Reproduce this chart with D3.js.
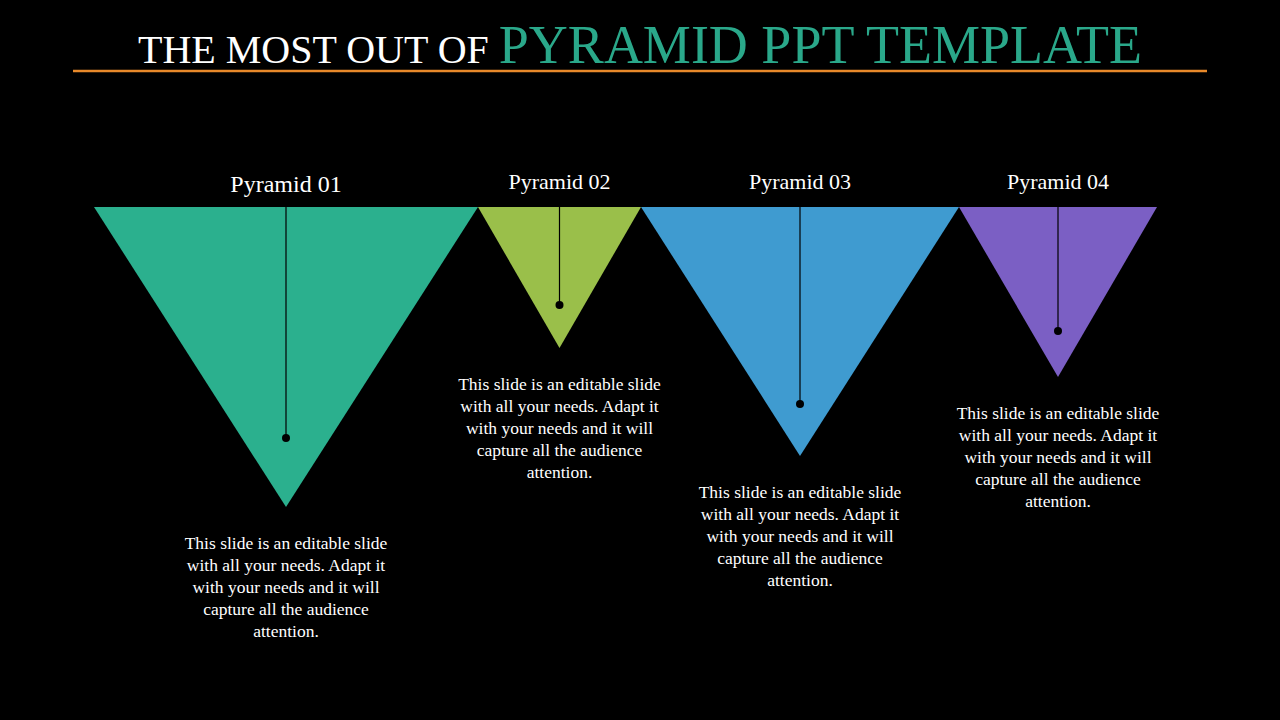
<!DOCTYPE html>
<html><head><meta charset="utf-8">
<script src="https://cdn.jsdelivr.net/npm/d3@7"></script>
<style>body{margin:0;background:#000}</style></head>
<body><svg id="c" width="1280" height="720"></svg>
<script>
const categories = ["Pyramid 01","Pyramid 02","Pyramid 03","Pyramid 04"];
const widths = [384, 163, 318, 198];
const depths = [300, 141, 249, 170];
const dotDepths = [231, 98, 197, 124];
const colors = ["#2bb08e","#9abf4a","#3f9bd0","#7b5fc4"];
const labelSizes = [24, 22, 22, 22];
const bodyLines = ["This slide is an editable slide","with all your needs. Adapt it","with your needs and it will","capture all the audience","attention."];

const svg = d3.select("#c");
svg.append("rect").attr("width",1280).attr("height",720).attr("fill","#000");
const font = "'Liberation Serif', 'DejaVu Serif', serif";

const t = svg.append("text").attr("x",640).attr("y",63).attr("text-anchor","middle")
  .attr("font-family",font);
t.append("tspan").text("THE MOST OUT OF ").attr("fill","#fff").attr("font-size",40);
t.append("tspan").text("PYRAMID PPT TEMPLATE").attr("fill","#2aa88a").attr("font-size",54);
svg.append("line").attr("x1",73).attr("x2",1207).attr("y1",71).attr("y2",71)
  .attr("stroke","#e8892a").attr("stroke-width",2.5);

const x = d3.scaleLinear().domain([0, d3.sum(widths)]).range([94, 1157]);
const y = d3.scaleLinear().domain([0, 300]).range([207, 507]);
let acc = 0;
categories.forEach((c,i)=>{
  const x0 = x(acc), x1 = x(acc+widths[i]); acc += widths[i];
  const cx = (x0+x1)/2;
  svg.append("path").attr("d",`M${x0},${y(0)}L${x1},${y(0)}L${cx},${y(depths[i])}Z`).attr("fill",colors[i]);
  svg.append("line").attr("x1",cx).attr("x2",cx).attr("y1",y(0)).attr("y2",y(dotDepths[i]))
    .attr("stroke","#000").attr("stroke-width",1.2);
  svg.append("circle").attr("cx",cx).attr("cy",y(dotDepths[i])).attr("r",4).attr("fill","#000");
  svg.append("text").attr("x",cx).attr("y",i===0?192:189).attr("text-anchor","middle")
    .attr("font-family",font).attr("font-size",labelSizes[i]).attr("fill","#fff").text(c);
  const ty = y(depths[i]) + 42;
  bodyLines.forEach((l,j)=>{
    svg.append("text").attr("x",cx).attr("y",ty+j*22).attr("text-anchor","middle")
      .attr("font-family",font).attr("font-size",17.5).attr("fill","#fff").text(l);
  });
});
</script></body></html>
